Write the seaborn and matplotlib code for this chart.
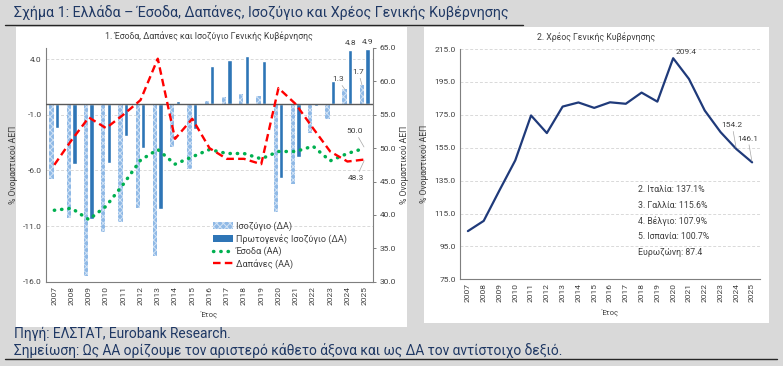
import numpy as np
import pandas as pd
import matplotlib
matplotlib.use('Agg')
import matplotlib.pyplot as plt
import seaborn as sns
from matplotlib.patches import Rectangle, Patch
from matplotlib.lines import Line2D

YEARS = [str(y) for y in range(2007, 2026)]
BALANCE = [-6.8, -10.3, -15.5, -11.5, -10.6, -9.4, -13.7, -3.9, -5.9, 0.2, 0.6, 0.9, 0.7, -9.7, -7.2, -2.6, -1.4, 1.3, 1.7]
PRIMARY = [-2.2, -5.4, -10.4, -5.3, -2.9, -4.0, -9.5, 0.2, -2.3, 3.4, 3.9, 4.3, 3.8, -6.7, -4.8, -0.2, 2.0, 4.8, 4.9]
REVENUE = [40.7, 41.0, 39.3, 41.3, 44.6, 48.2, 49.8, 47.6, 48.7, 49.8, 49.2, 49.2, 48.4, 49.5, 49.5, 50.3, 48.1, 49.2, 50.0]
EXPENDITURE = [47.5, 51.2, 54.6, 53.0, 55.0, 57.2, 63.4, 51.4, 54.4, 50.0, 48.4, 48.4, 47.6, 59.0, 56.6, 53.0, 49.5, 48.0, 48.3]
DEBT = [104.3, 110.5, 129.1, 147.3, 174.6, 163.9, 180.0, 182.5, 179.2, 182.6, 181.7, 188.5, 183.0, 209.4, 196.8, 177.6, 164.5, 154.2, 146.1]
RANKING = ['2. Ιταλία: 137.1%', '3. Γαλλία: 115.6%', '4. Βέλγιο: 107.9%', '5. Ισπανία: 100.7%', 'Ευρωζώνη: 87.4']
BAR_NAMES = ['Ισοζύγιο (ΔΑ)', 'Πρωτογενές Ισοζύγιο (ΔΑ)']
LINE_NAMES = ['Έσοδα (ΑΑ)', 'Δαπάνες (ΑΑ)']

W, H = 783, 366
BG = '#d9d9d9'
NAVY = '#1f3864'
LIGHT = '#8fb9e6'
HATCH_C = '#d3e3f5'
DARK = '#2e75b6'
GREEN = '#00b050'
RED = '#ff0000'
AXC = '#7f7f7f'
TXT = '#404040'


def fx(x):
    return x / W


def fy(y):
    return 1 - y / H


sns.set_theme(style='white')
plt.rcParams['font.family'] = ['Roboto', 'DejaVu Sans']
plt.rcParams['hatch.linewidth'] = 0.7

fig = plt.figure(figsize=(W / 100, H / 100), dpi=100, facecolor=BG)

# white panels and frame lines
fig.add_artist(Rectangle((fx(16), fy(327)), fx(391), 300 / H, transform=fig.transFigure,
                         facecolor='white', edgecolor='none', zorder=-2))
fig.add_artist(Rectangle((fx(424), fy(323)), fx(345), 296 / H, transform=fig.transFigure,
                         facecolor='white', edgecolor='none', zorder=-2))
fig.add_artist(Line2D([fx(5), fx(523)], [fy(24.5), fy(24.5)], transform=fig.transFigure,
                      color='#262626', lw=1.0))
fig.add_artist(Line2D([fx(5), fx(777)], [fy(359), fy(359)], transform=fig.transFigure,
                      color='#262626', lw=1.0))

fig.text(fx(14), fy(13), 'Σχήμα 1: Ελλάδα – Έσοδα, Δαπάνες, Ισοζύγιο και Χρέος Γενικής Κυβέρνησης',
         fontsize=10.3, color=NAVY, ha='left', va='center')
fig.text(fx(14), fy(334), 'Πηγή: ΕΛΣΤΑΤ, Eurobank Research.', fontsize=9.9, color=NAVY,
         ha='left', va='center')
fig.text(fx(14), fy(350), 'Σημείωση: Ως ΑΑ ορίζουμε τον αριστερό κάθετο άξονα και ως ΔΑ τον αντίστοιχο δεξιό.',
         fontsize=9.9, color=NAVY, ha='left', va='center')

# ---------- left chart ----------
ax = fig.add_axes([fx(45.7), fy(281.7), fx(373.3 - 45.7), (281.7 - 48) / H])
ax.set_facecolor('none')
bars = pd.DataFrame({
    'year': YEARS * 2,
    'value': BALANCE + PRIMARY,
    'series': [BAR_NAMES[0]] * len(YEARS) + [BAR_NAMES[1]] * len(YEARS),
})
sns.barplot(data=bars, x='year', y='value', hue='series', palette=[LIGHT, DARK],
            width=0.64, gap=0.2, dodge=True, saturation=1, ax=ax, zorder=2)
ax.legend_.remove()
n = len(YEARS)
for i, p in enumerate(ax.patches[:2 * n]):
    if i < n:
        p.set_hatch('xxxxx')
        p.set_edgecolor(HATCH_C)
        p.set_linewidth(0)

ax.set_ylim(-16, 5)
ax.set_xlim(-0.5, n - 0.5)
ax.set_yticks([-16, -11, -6, -1, 4])
ax.set_yticklabels([f'{v:.1f}' for v in [-16, -11, -6, -1, 4]])
for v in [-11, -6, -1, 4]:
    ax.axhline(v, color='#d9d9d9', lw=0.7, ls=(0, (3, 2)), zorder=0)
ax.axhline(0, color='#595959', lw=1.0, zorder=3)
ax.set_xlabel('Έτος', fontsize=5.5, color=TXT, labelpad=4)
ax.set_ylabel('% Ονομαστικού ΑΕΠ', fontsize=6.2, color=TXT, labelpad=3)
ax.tick_params(axis='x', labelrotation=90, labelsize=6, colors=TXT, length=0, pad=3)
ax.tick_params(axis='y', labelsize=6, colors=TXT, length=0, pad=3)
for s in ['top', 'right']:
    ax.spines[s].set_visible(False)
for s in ['left', 'bottom']:
    ax.spines[s].set_color(AXC)
    ax.spines[s].set_linewidth(0.8)

ax2 = ax.twinx()
idx = np.arange(n)
sns.lineplot(x=idx, y=REVENUE, ax=ax2, color=GREEN, lw=2.5, linestyle=(0, (0.1, 2.0)),
             dash_capstyle='round')
sns.lineplot(x=idx, y=EXPENDITURE, ax=ax2, color=RED, lw=1.7, linestyle=(0, (3.2, 1.8)))
ax2.set_ylim(30, 65)
ax2.set_xlim(-0.5, n - 0.5)
ax2.set_yticks(np.arange(30, 66, 5))
ax2.set_yticklabels([f'{v:.1f}' for v in np.arange(30, 66, 5)])
ax2.set_ylabel('% Ονομαστικού ΑΕΠ', fontsize=6.2, color=TXT, labelpad=3)
ax2.tick_params(axis='y', labelsize=6, colors=TXT, length=2.5, width=0.7, color=AXC, pad=2)
for s in ['top', 'left', 'bottom']:
    ax2.spines[s].set_visible(False)
ax2.spines['right'].set_color(AXC)
ax2.spines['right'].set_linewidth(0.8)

# value labels
for i in [n - 2, n - 1]:
    ax.annotate(f'{PRIMARY[i]:.1f}', xy=(i + 0.16, PRIMARY[i]), xytext=(0, 3),
                textcoords='offset points', ha='center', va='bottom', fontsize=6, color=TXT)
ax.annotate(f'{BALANCE[n - 2]:.1f}', xy=(n - 2 - 0.16, BALANCE[n - 2]), xytext=(-5, 5),
            textcoords='offset points', ha='center', va='bottom', fontsize=6, color=TXT,
            arrowprops=dict(arrowstyle='-', color='#a6a6a6', lw=0.5, shrinkA=0, shrinkB=0))
ax.annotate(f'{BALANCE[n - 1]:.1f}', xy=(n - 1 - 0.16, BALANCE[n - 1]), xytext=(-2.5, 7),
            textcoords='offset points', ha='center', va='bottom', fontsize=6, color=TXT,
            arrowprops=dict(arrowstyle='-', color='#a6a6a6', lw=0.5, shrinkA=0, shrinkB=0))
ax2.annotate(f'{REVENUE[-1]:.1f}', xy=(n - 1, REVENUE[-1]), xytext=(-7, 10),
             textcoords='offset points', ha='center', va='bottom', fontsize=6, color=TXT,
             arrowprops=dict(arrowstyle='-', color='#a6a6a6', lw=0.5, shrinkA=0, shrinkB=1))
ax2.annotate(f'{EXPENDITURE[-1]:.1f}', xy=(n - 1, EXPENDITURE[-1]), xytext=(-6, -11),
             textcoords='offset points', ha='center', va='top', fontsize=6, color=TXT,
             arrowprops=dict(arrowstyle='-', color='#a6a6a6', lw=0.5, shrinkA=0, shrinkB=1))

handles = [Patch(facecolor=LIGHT, edgecolor=HATCH_C, hatch='xxxxx', lw=0),
           Patch(facecolor=DARK, edgecolor='none'),
           Line2D([], [], color=GREEN, lw=2.5, linestyle=(0, (0.1, 2.0)), dash_capstyle='round'),
           Line2D([], [], color=RED, lw=1.7, linestyle=(0, (3.2, 1.8)))]
fig.legend(handles, BAR_NAMES + LINE_NAMES, loc='upper left', bbox_to_anchor=(fx(208), fy(217)),
           frameon=False, fontsize=6.6, handlelength=2.2, handleheight=0.8, handletextpad=0.3,
           labelspacing=0.3, borderpad=0, labelcolor=TXT)

fig.text(fx(209), fy(36), '1. Έσοδα, Δαπάνες και Ισοζύγιο Γενικής Κυβέρνησης', fontsize=6.3,
         color=TXT, ha='center', va='center')

# ---------- right chart ----------
bx = fig.add_axes([fx(460), fy(279.3), fx(300), (279.3 - 49) / H])
bx.set_facecolor('none')
sns.lineplot(x=idx, y=DEBT, ax=bx, color='#1f3a7a', lw=1.6)
bx.set_xlim(-0.5, n - 0.5)
bx.set_ylim(75, 215)
ticks = np.arange(75, 216, 20)
bx.set_yticks(ticks)
bx.set_yticklabels([f'{v:.1f}' for v in ticks])
bx.set_xticks(idx)
bx.set_xticklabels(YEARS)
for v in ticks[1:]:
    bx.axhline(v, color='#d9d9d9', lw=0.7, ls=(0, (3, 2)), zorder=0)
bx.set_xlabel('Έτος', fontsize=5.5, color=TXT, labelpad=4)
bx.set_ylabel('% Ονομαστικού ΑΕΠ', fontsize=6.2, color=TXT, labelpad=4)
bx.tick_params(axis='x', labelrotation=90, labelsize=6, colors=TXT, length=0, pad=3)
bx.tick_params(axis='y', labelsize=6, colors=TXT, length=0, pad=3)
for s in ['top', 'right']:
    bx.spines[s].set_visible(False)
for s in ['left', 'bottom']:
    bx.spines[s].set_color(AXC)
    bx.spines[s].set_linewidth(0.8)

peak = int(np.argmax(DEBT))
bx.annotate(f'{DEBT[peak]:.1f}', xy=(peak, DEBT[peak]), xytext=(2, 2), textcoords='offset points',
            ha='left', va='bottom', fontsize=6, color=TXT)
bx.annotate(f'{DEBT[n - 2]:.1f}', xy=(n - 2, DEBT[n - 2]), xytext=(-3, 15), textcoords='offset points',
            ha='center', va='bottom', fontsize=6, color=TXT,
            arrowprops=dict(arrowstyle='-', color='#a6a6a6', lw=0.5, shrinkA=0, shrinkB=1))
bx.annotate(f'{DEBT[n - 1]:.1f}', xy=(n - 1, DEBT[n - 1]), xytext=(-3, 15), textcoords='offset points',
            ha='center', va='bottom', fontsize=6, color=TXT,
            arrowprops=dict(arrowstyle='-', color='#a6a6a6', lw=0.5, shrinkA=0, shrinkB=1))
for k, line in enumerate(RANKING):
    bx.text(0.594, 0.391 - k * 0.069, line, transform=bx.transAxes, fontsize=6.3, color=TXT,
            ha='left', va='center')

fig.text(fx(596), fy(37), '2. Χρέος Γενικής Κυβέρνησης', fontsize=6.3, color=TXT, ha='center', va='center')

fig.savefig('out.png', dpi=100, facecolor=BG)
